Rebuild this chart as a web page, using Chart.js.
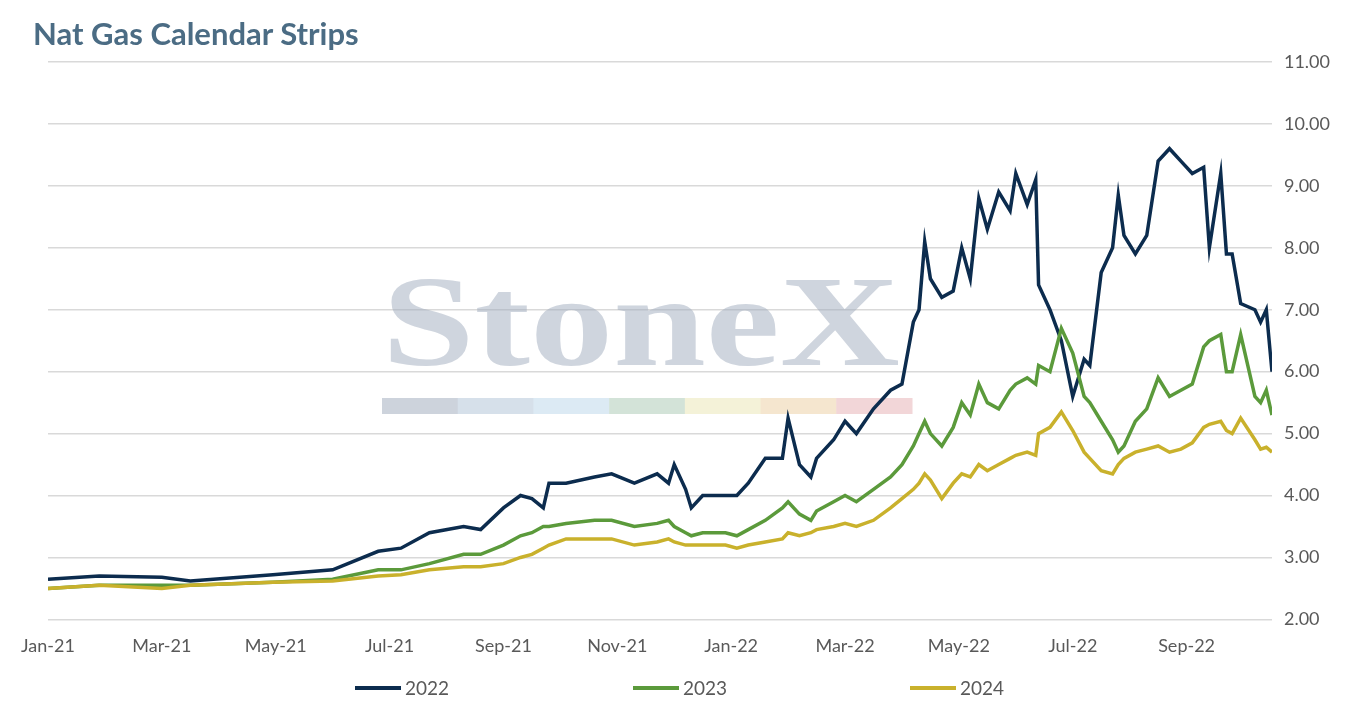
<!DOCTYPE html>
<html>
<head>
<meta charset="utf-8">
<script src="https://cdn.jsdelivr.net/npm/chart.js@4"></script>
<style>
  body { margin: 0; background: #fff; font-family: Lato, "Open Sans", sans-serif; }
  #wrap { position: relative; width: 1354px; height: 708px; }
  #title { position: absolute; left: 33px; top: 14px; font-size: 31px; font-weight: bold; color: #4b6c84; }
  #chart { position: absolute; left: 0; top: 0; }
  #legend { position: absolute; top: 676px; left: 0; width: 1354px; height: 24px; font-size: 19px; color: #595959; }
  .item { position: absolute; display: flex; align-items: center; }
  .swatch { width: 46px; height: 4px; margin-right: 4px; }
</style>
</head>
<body>
<div id="wrap">
  <canvas id="chart" width="1354" height="708"></canvas>
  <div id="title">Nat Gas Calendar Strips</div>
  <div id="legend"></div>
</div>
<script>
// months since Jan-21
const months = [0,0.9,2.0,2.5,3.95,5.0,5.8,6.2,6.7,7.3,7.6,8.0,8.3,8.5,8.7,8.8,9.1,9.6,9.9,10.3,10.7,10.9,11.0,11.2,11.3,11.5,11.9,12.1,12.3,12.6,12.9,13.0,13.2,13.4,13.5,13.8,14.0,14.2,14.5,14.8,15.0,15.2,15.3,15.4,15.5,15.7,15.9,16.05,16.2,16.35,16.5,16.7,16.9,17.0,17.2,17.35,17.4,17.6,17.8,18.0,18.2,18.3,18.5,18.7,18.8,18.9,19.1,19.3,19.5,19.7,19.9,20.1,20.3,20.4,20.6,20.7,20.8,20.95,21.2,21.3,21.4,21.5];
const strip2022 = [2.65,2.7,2.68,2.62,2.72,2.8,3.1,3.15,3.4,3.5,3.45,3.8,4.0,3.95,3.8,4.2,4.2,4.3,4.35,4.2,4.35,4.2,4.5,4.1,3.8,4.0,4.0,4.0,4.2,4.6,4.6,5.25,4.5,4.3,4.6,4.9,5.2,5.0,5.4,5.7,5.8,6.8,7.0,8.1,7.5,7.2,7.3,8.0,7.5,8.8,8.3,8.9,8.6,9.2,8.7,9.1,7.4,7.0,6.5,5.6,6.2,6.1,7.6,8.0,8.85,8.2,7.9,8.2,9.4,9.6,9.4,9.2,9.3,8.0,9.2,7.9,7.9,7.1,7.0,6.8,7.0,6.0];
const strip2023 = [2.5,2.55,2.55,2.55,2.6,2.65,2.8,2.8,2.9,3.05,3.05,3.2,3.35,3.4,3.5,3.5,3.55,3.6,3.6,3.5,3.55,3.6,3.5,3.4,3.35,3.4,3.4,3.35,3.45,3.6,3.8,3.9,3.7,3.6,3.75,3.9,4.0,3.9,4.1,4.3,4.5,4.8,5.0,5.2,5.0,4.8,5.1,5.5,5.3,5.8,5.5,5.4,5.7,5.8,5.9,5.8,6.1,6.0,6.7,6.3,5.6,5.5,5.2,4.9,4.7,4.8,5.2,5.4,5.9,5.6,5.7,5.8,6.4,6.5,6.6,6.0,6.0,6.6,5.6,5.5,5.7,5.3];
const strip2024 = [2.5,2.55,2.5,2.55,2.6,2.62,2.7,2.72,2.8,2.85,2.85,2.9,3.0,3.05,3.15,3.2,3.3,3.3,3.3,3.2,3.25,3.3,3.25,3.2,3.2,3.2,3.2,3.15,3.2,3.25,3.3,3.4,3.35,3.4,3.45,3.5,3.55,3.5,3.6,3.8,3.95,4.1,4.2,4.35,4.25,3.95,4.2,4.35,4.3,4.5,4.4,4.5,4.6,4.65,4.7,4.65,5.0,5.1,5.35,5.05,4.7,4.6,4.4,4.35,4.5,4.6,4.7,4.75,4.8,4.7,4.75,4.85,5.1,5.15,5.2,5.05,5.0,5.25,4.9,4.75,4.78,4.7];
const tickLabels = ['Jan-21','Mar-21','May-21','Jul-21','Sep-21','Nov-21','Jan-22','Mar-22','May-22','Jul-22','Sep-22'];
const seriesNames = ['2022','2023','2024'];
const seriesColors = ['#0c2c4e','#5b9a3b','#c9b12c'];

const watermark = {
  id: 'watermark',
  beforeDatasetsDraw(chart) {
    const ctx = chart.ctx;
    ctx.save();
    ctx.fillStyle = 'rgba(160,172,190,0.5)';
    ctx.font = 'bold 130px "Liberation Serif", "DejaVu Serif", serif';
    ctx.textBaseline = 'alphabetic';
    const tw = ctx.measureText('StoneX').width;
    ctx.translate(382, 365);
    ctx.scale(518 / tw, 1);
    ctx.fillText('StoneX', 0, 0);
    ctx.setTransform(1, 0, 0, 1, 0, 0);
    const cols = ['#cdd3dc','#d6e0ea','#dceaf4','#d3e3d8','#f4f2d8','#f5e6cf','#f2d6d8'];
    const x0 = 382, w = (912 - 382) / cols.length;
    cols.forEach((c, i) => { ctx.fillStyle = c; ctx.fillRect(x0 + i * w, 398, w + 0.5, 16); });
    ctx.restore();
  }
};

const datasets = [strip2022, strip2023, strip2024].map((vals, i) => ({
  label: seriesNames[i],
  data: months.map((m, j) => ({ x: m, y: vals[j] })),
  borderColor: seriesColors[i],
  borderWidth: 3.5,
  pointRadius: 0,
  tension: 0,
  fill: false
})).reverse();

new Chart(document.getElementById('chart'), {
  type: 'line',
  data: { datasets },
  plugins: [watermark],
  options: {
    responsive: false,
    animation: false,
    layout: { padding: { top: 62, left: 48, right: 12, bottom: 43 } },
    plugins: { legend: { display: false }, tooltip: { enabled: false } },
    scales: {
      x: {
        type: 'linear', min: 0, max: 21.5,
        afterBuildTicks: (axis) => { axis.ticks = tickLabels.map((_, i) => ({ value: i * 2 })); },
        ticks: { callback: (v) => tickLabels[v / 2], color: '#595959', font: { size: 18, family: 'Lato' }, maxRotation: 0, autoSkip: false, padding: 8 },
        grid: { display: false },
        border: { color: '#d9d9d9' }
      },
      y: {
        position: 'right', min: 2, max: 11,
        ticks: { stepSize: 1, callback: (v) => v.toFixed(2), color: '#595959', font: { size: 18, family: 'Lato' }, padding: 12 },
        grid: { color: '#d9d9d9', lineWidth: 1.5, drawTicks: false },
        border: { display: false }
      }
    }
  }
});

const legend = document.getElementById('legend');
const legendX = [355, 633, 910];
seriesNames.forEach((name, i) => {
  const el = document.createElement('div');
  el.className = 'item';
  el.style.left = legendX[i] + 'px';
  el.innerHTML = '<span class="swatch" style="background:' + seriesColors[i] + '"></span>' + name;
  legend.appendChild(el);
});
</script>
</body>
</html>
